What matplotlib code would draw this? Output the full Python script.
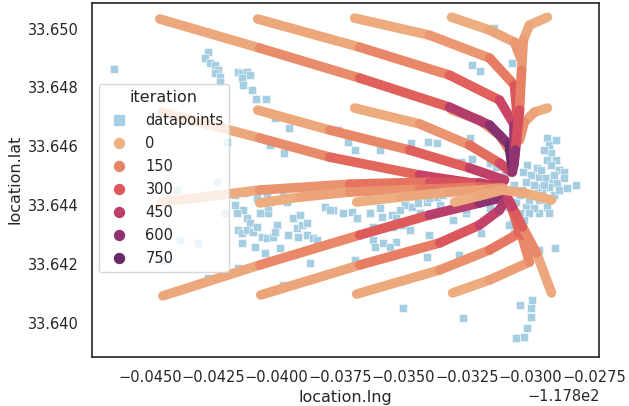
import numpy as np
import matplotlib
matplotlib.use("Agg")
import matplotlib.pyplot as plt
from matplotlib.collections import LineCollection
from matplotlib.colors import Normalize
from matplotlib.lines import Line2D
import seaborn as sns

sns.set_theme(style="white")

# raw datapoints (lng, lat)
datapoints = [
    # upper-left group
    (-117.84642, 33.64863), (-117.84272, 33.64920), (-117.84283, 33.64900), (-117.84264, 33.64883),
    (-117.84244, 33.64876), (-117.84232, 33.64859), (-117.84244, 33.64849), (-117.84224, 33.64835),
    (-117.84224, 33.64818), (-117.84154, 33.64852), (-117.84138, 33.64849), (-117.84118, 33.64852),
    (-117.84106, 33.64842), (-117.84138, 33.64832), (-117.84134, 33.64808), (-117.84098, 33.64791),
    (-117.84083, 33.64761), (-117.84043, 33.64761), (-117.84008, 33.64696), (-117.83953, 33.64662),
    (-117.84028, 33.64604), (-117.83972, 33.64577), (-117.84197, 33.64614), (-117.84236, 33.64478),
    (-117.84394, 33.64451),
    # top right
    (-117.83142, 33.65002), (-117.83232, 33.64876), (-117.83197, 33.64856), (-117.83071, 33.64883),
    # middle
    (-117.83760, 33.64655), (-117.83720, 33.64614), (-117.83693, 33.64587), (-117.83594, 33.64587),
    (-117.83472, 33.64611), (-117.83405, 33.64614), (-117.83370, 33.64611), (-117.83240, 33.64628),
    (-117.83272, 33.64546), (-117.83232, 33.64556), (-117.83161, 33.64543), (-117.83134, 33.64529),
    # main cluster on the right
    (-117.82933, 33.64628), (-117.82925, 33.64604), (-117.82917, 33.64577), (-117.82933, 33.64553),
    (-117.82898, 33.64553), (-117.82917, 33.64536), (-117.82886, 33.64519), (-117.82866, 33.64512),
    (-117.82819, 33.64468), (-117.83012, 33.64536), (-117.82976, 33.64526), (-117.83031, 33.64512),
    (-117.82996, 33.64502), (-117.82965, 33.64495), (-117.82937, 33.64492), (-117.82913, 33.64485),
    (-117.82894, 33.64475), (-117.82925, 33.64461), (-117.82953, 33.64444), (-117.82972, 33.64461),
    (-117.83016, 33.64478), (-117.83035, 33.64451), (-117.83004, 33.64441), (-117.82965, 33.64417),
    (-117.82933, 33.64393), (-117.82965, 33.64373), (-117.83016, 33.64393), (-117.83055, 33.64410),
    (-117.83083, 33.64393), (-117.83071, 33.64339), (-117.83161, 33.64390), (-117.83122, 33.64441),
    (-117.83252, 33.64373), (-117.82984, 33.64468), (-117.82945, 33.64468), (-117.82906, 33.64502),
    (-117.82957, 33.64519), (-117.83004, 33.64417), (-117.82984, 33.64390), (-117.83043, 33.64434),
    (-117.82945, 33.64424), (-117.82906, 33.64434), (-117.82886, 33.64451), (-117.83004, 33.64373),
    (-117.83043, 33.64373), (-117.83024, 33.64349), (-117.82925, 33.64373), (-117.82866, 33.64492),
    (-117.82854, 33.64458), (-117.83102, 33.64502), (-117.83063, 33.64468), (-117.82898, 33.64621),
    (-117.82945, 33.64587),
    # band in the centre
    (-117.83780, 33.64383), (-117.83740, 33.64373), (-117.83705, 33.64376), (-117.83685, 33.64356),
    (-117.83634, 33.64373), (-117.83594, 33.64390), (-117.83587, 33.64359), (-117.83547, 33.64366),
    (-117.83528, 33.64356), (-117.83496, 33.64400), (-117.83465, 33.64393), (-117.83445, 33.64407),
    (-117.83409, 33.64410), (-117.83398, 33.64424), (-117.83370, 33.64427), (-117.83346, 33.64434),
    (-117.83319, 33.64441), (-117.83299, 33.64444), (-117.83622, 33.64325), (-117.83583, 33.64322),
    (-117.83543, 33.64325), (-117.83504, 33.64332), (-117.83476, 33.64315), (-117.83398, 33.64298),
    (-117.83307, 33.64349), (-117.83252, 33.64383), (-117.83622, 33.64281), (-117.83583, 33.64271),
    (-117.83528, 33.64274), (-117.83614, 33.64257), (-117.83555, 33.64257), (-117.83693, 33.64213),
    (-117.83409, 33.64223), (-117.83280, 33.64230), (-117.83193, 33.64305), (-117.83280, 33.64451),
    (-117.83240, 33.64458), (-117.83201, 33.64465), (-117.83260, 33.64417), (-117.83220, 33.64427),
    (-117.83181, 33.64434), (-117.83358, 33.64400), (-117.83339, 33.64383), (-117.83437, 33.64373),
    (-117.83516, 33.64383),
    # left band
    (-117.84165, 33.64434), (-117.84126, 33.64441), (-117.84079, 33.64424), (-117.84039, 33.64441),
    (-117.83976, 33.64444), (-117.83961, 33.64410), (-117.84165, 33.64400), (-117.84205, 33.64373),
    (-117.84134, 33.64383), (-117.84157, 33.64373), (-117.84067, 33.64373), (-117.84035, 33.64373),
    (-117.84035, 33.64393), (-117.84028, 33.64410), (-117.84118, 33.64356), (-117.84106, 33.64339),
    (-117.84154, 33.64315), (-117.84138, 33.64305), (-117.84118, 33.64315), (-117.84094, 33.64308),
    (-117.84079, 33.64325), (-117.84059, 33.64291), (-117.84039, 33.64288), (-117.84016, 33.64291),
    (-117.84000, 33.64332), (-117.84008, 33.64308), (-117.84138, 33.64271), (-117.84087, 33.64257),
    (-117.84047, 33.64237), (-117.83988, 33.64254), (-117.83957, 33.64298), (-117.83937, 33.64356),
    (-117.83921, 33.64322), (-117.83902, 33.64332), (-117.83917, 33.64291), (-117.83882, 33.64298),
    (-117.83858, 33.64288), (-117.83843, 33.64281), (-117.83870, 33.64203), (-117.83937, 33.64230),
    (-117.83811, 33.64393), (-117.83791, 33.64383), (-117.83909, 33.64366), (-117.83882, 33.64339),
    (-117.84382, 33.64281), (-117.84311, 33.64271), (-117.84449, 33.64213), (-117.84154, 33.64186),
    (-117.84272, 33.64152), (-117.83976, 33.64128),
    # lower right
    (-117.83083, 33.64332), (-117.83063, 33.64305), (-117.82965, 33.64247), (-117.82902, 33.64254),
    (-117.83043, 33.64060), (-117.82992, 33.64077), (-117.82996, 33.64049), (-117.82996, 33.64019),
    (-117.83012, 33.63982), (-117.83024, 33.63951), (-117.83055, 33.63948), (-117.83264, 33.64016),
    (-117.83504, 33.64049),
]

# mean-shift trajectories: (lng, lat, iteration) waypoints
path_11 = [(-117.84461, 33.65033, 0), (-117.84067, 33.64934, 90), (-117.83673, 33.64832, 200),
           (-117.83319, 33.64733, 430), (-117.83161, 33.64672, 590), (-117.83083, 33.64604, 720),
           (-117.83071, 33.64519, 820)]
path_12 = [(-117.84075, 33.65033, 0), (-117.83673, 33.64937, 100), (-117.83319, 33.64842, 230),
           (-117.83122, 33.64757, 340), (-117.83063, 33.64672, 500), (-117.83063, 33.64536, 700)]
path_13 = [(-117.83693, 33.65036, 0), (-117.83398, 33.64978, 60), (-117.83161, 33.64900, 140),
           (-117.83063, 33.64808, 260), (-117.83051, 33.64689, 430), (-117.83063, 33.64553, 620)]
path_14 = [(-117.83311, 33.65039, 0), (-117.83161, 33.64995, 30), (-117.83063, 33.64954, 70),
           (-117.83035, 33.64893, 130)]
path_15 = [(-117.82933, 33.65039, 0), (-117.83004, 33.65012, 20), (-117.83028, 33.64961, 50),
           (-117.83035, 33.64859, 120), (-117.83043, 33.64723, 270), (-117.83059, 33.64587, 520),
           (-117.83071, 33.64512, 800)]
path_21 = [(-117.84453, 33.64716, 0), (-117.84067, 33.64628, 90), (-117.83791, 33.64563, 200),
           (-117.83437, 33.64502, 360), (-117.83201, 33.64471, 510), (-117.83110, 33.64461, 650)]
path_22 = [(-117.84075, 33.64723, 0), (-117.83791, 33.64655, 100), (-117.83476, 33.64587, 230),
           (-117.83240, 33.64526, 380), (-117.83102, 33.64485, 550)]
path_23 = [(-117.83693, 33.64730, 0), (-117.83437, 33.64676, 60), (-117.83240, 33.64604, 180),
           (-117.83122, 33.64543, 330), (-117.83075, 33.64512, 450)]
path_24 = [(-117.83311, 33.64723, 0), (-117.83201, 33.64689, 40), (-117.83122, 33.64638, 120),
           (-117.83083, 33.64587, 230), (-117.83071, 33.64536, 330)]
path_25 = [(-117.82933, 33.64730, 0), (-117.82984, 33.64716, 30), (-117.83024, 33.64682, 80),
           (-117.83043, 33.64621, 190)]
path_31 = [(-117.84453, 33.64410, 0), (-117.84067, 33.64451, 70), (-117.83713, 33.64471, 170),
           (-117.83398, 33.64478, 290), (-117.83201, 33.64475, 410), (-117.83110, 33.64461, 520)]
path_32 = [(-117.84067, 33.64407, 0), (-117.83909, 33.64427, 30), (-117.83713, 33.64444, 80),
           (-117.83437, 33.64454, 160), (-117.83201, 33.64461, 240), (-117.83110, 33.64458, 320)]
path_33 = [(-117.83685, 33.64410, 0), (-117.83516, 33.64427, 20), (-117.83319, 33.64444, 45),
           (-117.83161, 33.64454, 80), (-117.83110, 33.64458, 110)]
path_34 = [(-117.83299, 33.64410, 0), (-117.83201, 33.64431, 20), (-117.83110, 33.64451, 50)]
path_35 = [(-117.82917, 33.64417, 0), (-117.83024, 33.64441, 20), (-117.83110, 33.64451, 50)]
path_41 = [(-117.84449, 33.64091, 0), (-117.84067, 33.64196, 90), (-117.83673, 33.64298, 240),
           (-117.83398, 33.64366, 410), (-117.83201, 33.64407, 580), (-117.83102, 33.64427, 700)]
path_42 = [(-117.84063, 33.64094, 0), (-117.83673, 33.64196, 130), (-117.83358, 33.64271, 270),
           (-117.83201, 33.64332, 390), (-117.83122, 33.64383, 480), (-117.83094, 33.64424, 550)]
path_43 = [(-117.83685, 33.64097, 0), (-117.83358, 33.64179, 80), (-117.83161, 33.64247, 160),
           (-117.83043, 33.64305, 260), (-117.83063, 33.64366, 370), (-117.83087, 33.64417, 450)]
path_44 = [(-117.83307, 33.64101, 0), (-117.83161, 33.64145, 40), (-117.83004, 33.64206, 100),
           (-117.83035, 33.64298, 210), (-117.83071, 33.64383, 320)]
path_45 = [(-117.82917, 33.64101, 0), (-117.82976, 33.64237, 90), (-117.83031, 33.64325, 240),
           (-117.83071, 33.64393, 400), (-117.83087, 33.64420, 450)]

draw_order = [path_41, path_42, path_43, path_44, path_45,
              path_21, path_22, path_23, path_24, path_25,
              path_11, path_12, path_13, path_14, path_15,
              path_31, path_32, path_33, path_34, path_35]

legend_levels = [0, 150, 300, 450, 600, 750]
iter_max = 850

x_ticks = [-117.845, -117.8425, -117.84, -117.8375, -117.835, -117.8325, -117.83, -117.8275]
y_ticks = [33.640, 33.642, 33.644, 33.646, 33.648, 33.650]

cmap = sns.color_palette("flare", as_cmap=True)
norm = Normalize(0, iter_max)
point_color = "#a6cee3"

fig = plt.figure(figsize=(629 / 96, 406 / 96), dpi=96)
ax = fig.add_axes([0.1455, 0.1207, 0.8075, 0.8731])

dp = np.array(datapoints)
ax.scatter(dp[:, 0], dp[:, 1], marker="s", s=38, color=point_color,
           edgecolor="white", linewidth=0.4, zorder=2)

for path in draw_order:
    p = np.array(path, dtype=float)
    segs = [p[i:i + 2, :2] for i in range(len(p) - 1)]
    # colour each stretch by the iteration near its beginning
    vals = p[:-1, 2] + 0.3 * (p[1:, 2] - p[:-1, 2])
    lc = LineCollection(segs, colors=cmap(norm(vals)), linewidths=7.2,
                        capstyle="round", joinstyle="round", zorder=3)
    ax.add_collection(lc)

ax.set_xlim(-117.84730, -117.82728)
ax.set_ylim(33.63883, 33.65089)
ax.set_xticks(x_ticks)
ax.set_yticks(y_ticks)
ax.set_xlabel("location.lng")
ax.set_ylabel("location.lat")

handles = [Line2D([], [], linestyle="", marker="s", markersize=7, color=point_color)]
labels = ["datapoints"]
for lv in legend_levels:
    handles.append(Line2D([], [], linestyle="", marker="o", markersize=7.5,
                          color=cmap(norm(lv))))
    labels.append(str(lv))
leg = ax.legend(handles, labels, title="iteration", loc="upper left",
                bbox_to_anchor=(0.0138, 0.7705), borderaxespad=0, labelspacing=0.55)
leg.set_zorder(5)

fig.savefig("out.png", dpi=96)
